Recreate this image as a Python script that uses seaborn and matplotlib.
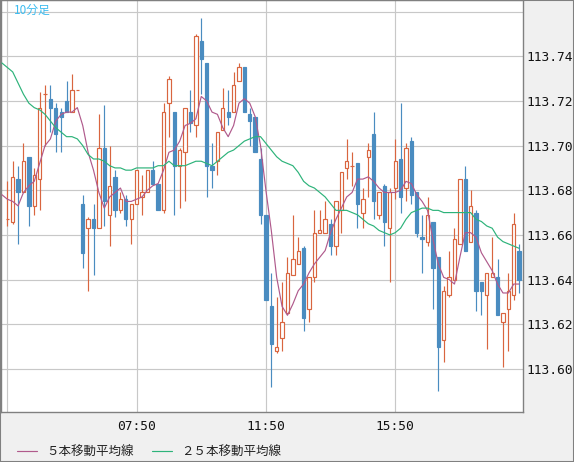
import numpy as np
import pandas as pd
import matplotlib
matplotlib.use("Agg")
import matplotlib.pyplot as plt
import seaborn as sns
from matplotlib.patches import Rectangle
from matplotlib.font_manager import FontProperties

# 10分足 USD/JPY 03:50 - 19:40 (96本)
opens = [113.667, 113.666, 113.685, 113.679, 113.695, 113.673, 113.685, 113.723, 113.721, 113.717,
         113.715, 113.720, 113.715, 113.725, 113.674, 113.663, 113.667, 113.663, 113.699, 113.669,
         113.686, 113.671, 113.676, 113.667, 113.674, 113.677, 113.679, 113.689, 113.683, 113.671,
         113.719, 113.715, 113.691, 113.697, 113.715, 113.709, 113.747, 113.737, 113.691, 113.693,
         113.707, 113.715, 113.715, 113.729, 113.735, 113.714, 113.713, 113.694, 113.669, 113.628,
         113.608, 113.614, 113.625, 113.642, 113.647, 113.654, 113.627, 113.641, 113.661, 113.661,
         113.665, 113.655, 113.671, 113.690, 113.691, 113.692, 113.670, 113.695, 113.705, 113.669,
         113.682, 113.663, 113.681, 113.694, 113.681, 113.702, 113.679, 113.659, 113.657, 113.666,
         113.650, 113.613, 113.633, 113.640, 113.656, 113.685, 113.657, 113.670, 113.639, 113.633,
         113.641, 113.641, 113.621, 113.627, 113.633, 113.653]
highs = [113.684, 113.693, 113.691, 113.701, 113.695, 113.690, 113.724, 113.727, 113.727, 113.719,
         113.717, 113.729, 113.732, 113.725, 113.678, 113.668, 113.674, 113.714, 113.718, 113.700,
         113.689, 113.679, 113.678, 113.674, 113.689, 113.687, 113.689, 113.693, 113.683, 113.719,
         113.731, 113.715, 113.699, 113.717, 113.725, 113.750, 113.757, 113.737, 113.701, 113.706,
         113.726, 113.725, 113.733, 113.737, 113.735, 113.717, 113.713, 113.699, 113.669, 113.643,
         113.632, 113.639, 113.650, 113.669, 113.659, 113.655, 113.641, 113.671, 113.671, 113.675,
         113.667, 113.675, 113.688, 113.703, 113.697, 113.692, 113.681, 113.701, 113.715, 113.679,
         113.683, 113.681, 113.703, 113.719, 113.701, 113.704, 113.679, 113.669, 113.677, 113.666,
         113.650, 113.637, 113.653, 113.663, 113.685, 113.691, 113.680, 113.671, 113.639, 113.643,
         113.659, 113.649, 113.625, 113.643, 113.670, 113.656]
lows = [113.664, 113.665, 113.656, 113.679, 113.664, 113.669, 113.671, 113.700, 113.706, 113.697,
        113.697, 113.715, 113.715, 113.725, 113.645, 113.635, 113.642, 113.663, 113.664, 113.655,
        113.668, 113.670, 113.664, 113.656, 113.674, 113.669, 113.679, 113.683, 113.671, 113.670,
        113.704, 113.669, 113.672, 113.675, 113.706, 113.704, 113.723, 113.677, 113.681, 113.687,
        113.707, 113.709, 113.715, 113.729, 113.715, 113.700, 113.697, 113.665, 113.631, 113.592,
        113.607, 113.608, 113.625, 113.642, 113.647, 113.617, 113.621, 113.639, 113.661, 113.661,
        113.651, 113.651, 113.661, 113.685, 113.682, 113.663, 113.663, 113.677, 113.667, 113.667,
        113.655, 113.639, 113.676, 113.670, 113.675, 113.674, 113.659, 113.643, 113.655, 113.627,
        113.590, 113.603, 113.632, 113.640, 113.656, 113.653, 113.657, 113.626, 113.624, 113.609,
        113.641, 113.624, 113.601, 113.608, 113.631, 113.634]
closes = [113.667, 113.686, 113.679, 113.693, 113.673, 113.687, 113.717, 113.723, 113.717, 113.705,
          113.713, 113.715, 113.725, 113.725, 113.652, 113.667, 113.663, 113.699, 113.675, 113.682,
          113.671, 113.676, 113.667, 113.674, 113.689, 113.679, 113.689, 113.683, 113.671, 113.715,
          113.730, 113.691, 113.698, 113.717, 113.710, 113.749, 113.739, 113.691, 113.689, 113.706,
          113.717, 113.713, 113.727, 113.735, 113.715, 113.711, 113.697, 113.669, 113.631, 113.611,
          113.610, 113.621, 113.643, 113.649, 113.653, 113.623, 113.641, 113.661, 113.662, 113.667,
          113.655, 113.675, 113.688, 113.693, 113.691, 113.674, 113.676, 113.698, 113.675, 113.679,
          113.666, 113.679, 113.693, 113.677, 113.699, 113.678, 113.661, 113.658, 113.669, 113.645,
          113.610, 113.635, 113.641, 113.658, 113.685, 113.653, 113.673, 113.635, 113.635, 113.643,
          113.643, 113.624, 113.625, 113.635, 113.665, 113.640]

# 移動平均線 (1本前から)
ma5 = [113.678, 113.676, 113.675, 113.673, 113.679, 113.682, 113.684, 113.692, 113.700, 113.703,
       113.711, 113.714, 113.715, 113.715, 113.717, 113.709, 113.697, 113.689, 113.679, 113.672,
       113.677, 113.679, 113.681, 113.675, 113.675, 113.676, 113.677, 113.680, 113.682, 113.683,
       113.689, 113.697, 113.698, 113.702, 113.709, 113.710, 113.712, 113.722, 113.720, 113.715,
       113.714, 113.708, 113.704, 113.709, 113.719, 113.721, 113.719, 113.713, 113.700, 113.680,
       113.662, 113.641, 113.628, 113.624, 113.629, 113.635, 113.638, 113.643, 113.647, 113.650,
       113.653, 113.661, 113.667, 113.672, 113.677, 113.679, 113.685, 113.685, 113.686, 113.684,
       113.681, 113.679, 113.679, 113.679, 113.680, 113.684, 113.683, 113.678, 113.675, 113.671,
       113.658, 113.647, 113.641, 113.640, 113.638, 113.650, 113.661, 113.661, 113.659, 113.652,
       113.648, 113.644, 113.638, 113.634, 113.634, 113.638, 113.638]
ma25 = [113.737, 113.735, 113.733, 113.728, 113.723, 113.719, 113.717, 113.716, 113.714, 113.711,
        113.708, 113.706, 113.704, 113.704, 113.703, 113.700, 113.696, 113.694, 113.694, 113.693,
        113.691, 113.690, 113.690, 113.689, 113.689, 113.690, 113.690, 113.690, 113.690, 113.691,
        113.691, 113.693, 113.691, 113.691, 113.691, 113.692, 113.693, 113.693, 113.692, 113.691,
        113.693, 113.695, 113.697, 113.698, 113.700, 113.702, 113.703, 113.704, 113.704, 113.701,
        113.698, 113.695, 113.693, 113.692, 113.691, 113.688, 113.684, 113.682, 113.681, 113.679,
        113.677, 113.674, 113.671, 113.671, 113.671, 113.670, 113.669, 113.667, 113.665, 113.664,
        113.662, 113.661, 113.660, 113.661, 113.663, 113.667, 113.670, 113.671, 113.672, 113.672,
        113.671, 113.671, 113.670, 113.670, 113.670, 113.670, 113.670, 113.670, 113.667, 113.666,
        113.664, 113.663, 113.659, 113.657, 113.656, 113.655, 113.654]

tick_pos = [0, 24, 48, 72]
tick_labels = ["", "07:50", "11:50", "15:50"]
price_ticks = [113.60, 113.62, 113.64, 113.66, 113.68, 113.70, 113.72, 113.74, 113.76]
price_labels = ["113.60", "113.62", "113.64", "113.66", "113.68", "113.70", "113.72", "113.74", ""]

UP = "#d9653f"
DOWN = "#4a8cc0"
C_MA5 = "#b05a8c"
C_MA25 = "#2db37a"

sns.set_style("white")
plt.rcParams["font.family"] = ["DejaVu Sans Mono"]

df = pd.DataFrame({"open": opens, "high": highs, "low": lows, "close": closes})
df["x"] = np.arange(len(df))
df["up"] = df["close"] >= df["open"]
ma = pd.DataFrame({"x": np.arange(-1, len(df)), "ma5": ma5, "ma25": ma25})

fig = plt.figure(figsize=(5.74, 4.62), dpi=100, facecolor="#f0f0f0")
ax = fig.add_axes([1 / 574, 50 / 462, 522 / 574, 412 / 462])
ax.set_facecolor("white")

# ヒゲ
cols = np.where(df["up"], UP, DOWN)
ax.vlines(df["x"], df["low"], df["high"], colors=cols, linewidth=0.85, zorder=2)

# 実体
body_lo = df[["open", "close"]].min(axis=1)
body_h = (df["close"] - df["open"]).abs()
ax.bar(df["x"], body_h, bottom=body_lo, width=0.62,
       color=np.where(df["up"], "white", DOWN), edgecolor=cols, linewidth=0.85, zorder=3)

# 移動平均線
sns.lineplot(data=ma, x="x", y="ma5", ax=ax, color=C_MA5, linewidth=0.85, zorder=4, label="５本移動平均線")
sns.lineplot(data=ma, x="x", y="ma25", ax=ax, color=C_MA25, linewidth=0.85, zorder=4, label="２５本移動平均線")
handles, labels = ax.get_legend_handles_labels()
ax.get_legend().remove()

ax.set_xlim(-1.17, 95.72)
ax.set_ylim(113.5807, 113.7652)
ax.set_xlabel("")
ax.set_ylabel("")

ax.set_xticks(tick_pos)
ax.set_xticklabels(tick_labels)
ax.set_yticks(price_ticks)
ax.set_yticklabels(price_labels)
ax.yaxis.tick_right()
ax.tick_params(axis="y", length=0, pad=2.5, labelsize=9.3, colors="#111111")
ax.tick_params(axis="x", length=0, pad=6, labelsize=9.3, colors="#111111")

ax.grid(True, color="#c8c8c8", linewidth=0.85)
ax.set_axisbelow(True)
for sp in ax.spines.values():
    sp.set_visible(True)
    sp.set_color("#808080")
    sp.set_linewidth(1.0)

ax.text(13 / 522, 1 - 4 / 412, "10分足", transform=ax.transAxes, ha="left", va="top",
        color="#3cbcf0", fontsize=8.5, family=["Noto Sans CJK JP", "DejaVu Sans"])

fig.legend(handles, labels, loc="center left", bbox_to_anchor=(16.5 / 574, 1 - 452 / 462),
           ncol=2, frameon=False, borderpad=0, borderaxespad=0, handlelength=1.6,
           handletextpad=0.75, columnspacing=1.5,
           prop=FontProperties(family="Noto Sans CJK JP", size=9))
for t in fig.legends[0].get_texts():
    t.set_color("#222222")

fig.patches.append(Rectangle((0, 0), 1, 1, transform=fig.transFigure, fill=False,
                             edgecolor="#808080", linewidth=1.5))

fig.savefig("out.png", dpi=100, facecolor=fig.get_facecolor())
